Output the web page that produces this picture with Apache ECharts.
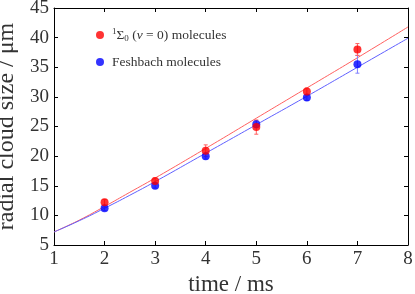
<!DOCTYPE html>
<html><head><meta charset="utf-8">
<script src="https://cdn.jsdelivr.net/npm/echarts@6/dist/echarts.min.js"></script>
<style>html,body{margin:0;padding:0;background:#fff}#c{width:415px;height:294px}</style>
</head><body><div id="c"></div>
<script>
// data
var times = [2, 3, 4, 5, 6, 7];
var redValues = [12.2, 15.8, 20.9, 24.9, 30.9, 38.0];
var redErrors = [0.5, 0.5, 1.0, 1.2, 0.6, 1.0];
var blueValues = [11.2, 15.0, 20.0, 25.4, 29.9, 35.5];
var blueErrors = [0.4, 0.4, 0.5, 0.6, 0.5, 1.5];
var fitTimes = [1, 1.5, 2, 2.5, 3, 4, 5, 6, 7, 8];
var redFit = [7.2, 9.2, 11.5, 13.9, 16.3, 21.3, 26.4, 31.5, 36.6, 41.8];
var blueFit = [7.2, 9.1, 11.2, 13.4, 15.7, 20.5, 25.3, 30.1, 35.0, 39.9];
var xTicks = [1, 2, 3, 4, 5, 6, 7, 8];
var yTicks = [5, 10, 15, 20, 25, 30, 35, 40, 45];

var FONT = 'Liberation Serif';
var TXT = '#333';
function pairs(xs, ys) { return xs.map(function (x, i) { return [x, ys[i]]; }); }
function errData(xs, ys, es) { return xs.map(function (x, i) { return [x, ys[i] - es[i], ys[i] + es[i]]; }); }
function errRender(color) {
  return function (params, api) {
    var x = api.value(0);
    var lo = api.coord([x, api.value(1)]);
    var hi = api.coord([x, api.value(2)]);
    var st = { stroke: color, lineWidth: 1 };
    return { type: 'group', children: [
      { type: 'line', shape: { x1: lo[0], y1: lo[1], x2: hi[0], y2: hi[1] }, style: st },
      { type: 'line', shape: { x1: lo[0] - 2, y1: lo[1], x2: lo[0] + 2, y2: lo[1] }, style: st },
      { type: 'line', shape: { x1: hi[0] - 2, y1: hi[1], x2: hi[0] + 2, y2: hi[1] }, style: st }
    ]};
  };
}
var axisCommon = {
  axisLine: { show: true, lineStyle: { color: '#000', width: 1 } },
  axisTick: { show: true, inside: true, length: 4, lineStyle: { color: '#000' } },
  splitLine: { show: false }
};
var chart = echarts.init(document.getElementById('c'), null, { renderer: 'canvas' });
chart.setOption({
  animation: false,
  backgroundColor: '#fff',
  grid: { left: 54, right: 7, top: 8, bottom: 49, containLabel: false, outerBoundsMode: 'none' },
  legend: {
    data: ['red', 'blue'],
    orient: 'vertical', left: 91, top: 22,
    itemWidth: 14, itemHeight: 8, itemGap: 11,
    icon: 'circle',
    textStyle: { fontFamily: FONT, fontSize: 13.5, color: TXT, lineHeight: 16,
      rich: {
        sup: { fontFamily: FONT, fontSize: 9, color: TXT, verticalAlign: 'top', lineHeight: 16 },
        sub: { fontFamily: FONT, fontSize: 9, color: TXT, verticalAlign: 'bottom', lineHeight: 14 },
        it: { fontFamily: FONT, fontSize: 13.5, fontStyle: 'italic', color: TXT, lineHeight: 16 },
        n: { fontFamily: FONT, fontSize: 13.5, color: TXT, lineHeight: 16 }
      } },
    formatter: function (name) {
      if (name === 'red') return '{sup|1}{n|Σ}{sub|0}{n| (}{it|v}{n| = 0) molecules}';
      return '{n|Feshbach molecules}';
    }
  },
  xAxis: [
    Object.assign({}, axisCommon, { type: 'value', min: xTicks[0], max: xTicks[xTicks.length - 1], interval: 1,
      name: 'time / ms', nameLocation: 'middle', nameGap: 27,
      nameTextStyle: { fontFamily: FONT, fontSize: 23, color: TXT },
      axisLabel: { fontFamily: FONT, fontSize: 19, color: TXT, margin: 5 } }),
    Object.assign({}, axisCommon, { type: 'value', position: 'top', min: xTicks[0], max: xTicks[xTicks.length - 1], interval: 1,
      axisLabel: { show: false } })
  ],
  yAxis: [
    Object.assign({}, axisCommon, { type: 'value', min: yTicks[0], max: yTicks[yTicks.length - 1], interval: 5,
      name: 'radial cloud size / μm', nameLocation: 'middle', nameGap: 28,
      nameTextStyle: { fontFamily: FONT, fontSize: 24, color: TXT },
      axisLabel: { fontFamily: FONT, fontSize: 19, color: TXT, margin: 5 } }),
    Object.assign({}, axisCommon, { type: 'value', position: 'right', min: yTicks[0], max: yTicks[yTicks.length - 1], interval: 5,
      axisLabel: { show: false } })
  ],
  series: [
    { name: 'redFit', type: 'line', data: pairs(fitTimes, redFit), smooth: true, symbol: 'none',
      lineStyle: { color: '#ff6060', width: 1 }, z: 1 },
    { name: 'blueFit', type: 'line', data: pairs(fitTimes, blueFit), smooth: true, symbol: 'none',
      lineStyle: { color: '#6060ff', width: 1 }, z: 1 },
    { name: 'blueErr', type: 'custom', renderItem: errRender('#8080ff'), data: errData(times, blueValues, blueErrors), z: 2 },
    { name: 'redErr', type: 'custom', renderItem: errRender('#ff6060'), data: errData(times, redValues, redErrors), z: 2 },
    { name: 'blue', type: 'scatter', data: pairs(times, blueValues), symbolSize: 8,
      itemStyle: { color: '#0000ff' }, z: 3 },
    { name: 'red', type: 'scatter', data: pairs(times, redValues), symbolSize: 8,
      itemStyle: { color: '#ff0000' }, z: 4 }
  ]
});
</script></body></html>
